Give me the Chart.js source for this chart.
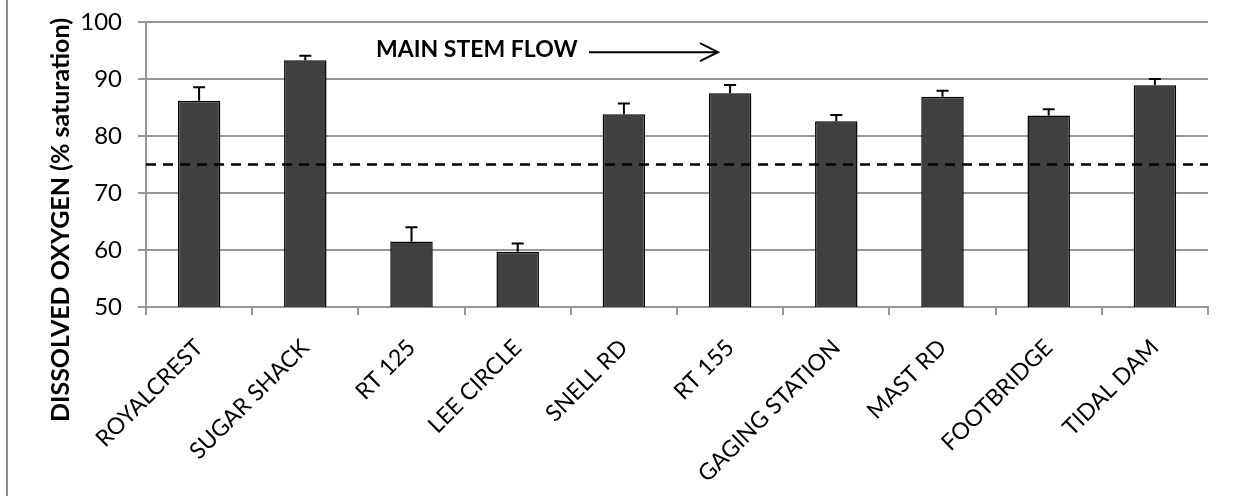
<!DOCTYPE html>
<html>
<head>
<meta charset="utf-8">
<script src="https://cdn.jsdelivr.net/npm/chart.js@4"></script>
<style>
  html, body { margin: 0; padding: 0; background: #fff; }
  #wrap { width: 1233px; height: 496px; }
</style>
</head>
<body>
<div id="wrap"><canvas id="doChart" width="1233" height="496"></canvas></div>
<script>
// sampling sites, upstream to downstream
const sites = ['ROYALCREST', 'SUGAR SHACK', 'RT 125', 'LEE CIRCLE', 'SNELL RD',
               'RT 155', 'GAGING STATION', 'MAST RD', 'FOOTBRIDGE', 'TIDAL DAM'];
// mean dissolved oxygen (% saturation)
const meanDO = [86.2, 93.3, 61.5, 59.7, 83.8, 87.5, 82.6, 86.9, 83.6, 88.9];
// error bar (+) size
const errDO = [2.35, 0.8, 2.5, 1.45, 1.9, 1.45, 1.1, 1.05, 1.1, 1.1];
// state standard line
const standardDO = 75;
const yTicks = [50, 60, 70, 80, 90, 100];

const fontFam = 'Lato, "Open Sans", sans-serif';
const gridGray = '#969696';

const extras = {
    id: 'extras',
    afterDatasetsDraw(chart) {
        const ctx = chart.ctx;
        const y = chart.scales.y;
        const meta = chart.getDatasetMeta(0);

        // error bars (upper half only, lower half sits inside the bar)
        ctx.save();
        ctx.strokeStyle = '#000';
        ctx.lineWidth = 2;
        meta.data.forEach((bar, i) => {
            const top = y.getPixelForValue(meanDO[i] + errDO[i]);
            const base = y.getPixelForValue(meanDO[i]);
            ctx.beginPath();
            ctx.moveTo(bar.x, base);
            ctx.lineTo(bar.x, top);
            ctx.moveTo(bar.x - 6, top);
            ctx.lineTo(bar.x + 6, top);
            ctx.stroke();
        });

        // dashed standard line
        const yStd = y.getPixelForValue(standardDO);
        ctx.setLineDash([10, 7]);
        ctx.lineWidth = 2.5;
        ctx.beginPath();
        ctx.moveTo(chart.chartArea.left, yStd);
        ctx.lineTo(chart.chartArea.right, yStd);
        ctx.stroke();
        ctx.setLineDash([]);

        // flow annotation
        const ay = y.getPixelForValue(94.7);
        ctx.fillStyle = '#000';
        ctx.font = 'bold 23px ' + fontFam;
        ctx.textBaseline = 'middle';
        ctx.textAlign = 'left';
        ctx.fillText('MAIN STEM FLOW', 376, ay - 3);
        const ax0 = 589, ax1 = 718;
        ctx.lineWidth = 2;
        ctx.beginPath();
        ctx.moveTo(ax0, ay);
        ctx.lineTo(ax1, ay);
        ctx.moveTo(ax1 - 18, ay - 9);
        ctx.lineTo(ax1, ay);
        ctx.lineTo(ax1 - 18, ay + 9);
        ctx.stroke();

        // y axis title
        ctx.save();
        ctx.translate(61, 220);
        ctx.rotate(-Math.PI / 2);
        ctx.textAlign = 'center';
        ctx.font = 'bold 25px ' + fontFam;
        ctx.fillText('DISSOLVED OXYGEN (% saturation)', 0, 0);
        ctx.restore();

        // left frame edge
        ctx.strokeStyle = '#8c8c8c';
        ctx.lineWidth = 2;
        ctx.beginPath();
        ctx.moveTo(7, 0);
        ctx.lineTo(7, chart.height);
        ctx.stroke();
        ctx.restore();
    }
};

new Chart(document.getElementById('doChart'), {
    type: 'bar',
    data: {
        labels: sites,
        datasets: [{
            data: meanDO,
            backgroundColor: '#404040',
            borderColor: '#000',
            borderWidth: 1.5,
            barPercentage: 0.4,
            categoryPercentage: 1
        }]
    },
    options: {
        responsive: false,
        animation: false,
        layout: { padding: { top: 22, right: 25, left: 0, bottom: 0 } },
        plugins: { legend: { display: false }, tooltip: { enabled: false } },
        scales: {
            x: {
                grid: { drawOnChartArea: false, tickLength: 8, color: gridGray, lineWidth: 2, offset: true },
                border: { color: gridGray, width: 2 },
                ticks: {
                    color: '#000', font: { family: fontFam, size: 23 },
                    minRotation: 45, maxRotation: 45, padding: 19, autoSkip: false
                },
                afterFit(scale) { scale.height = 189; scale.paddingLeft = 0; scale.paddingRight = 0; }
            },
            y: {
                min: 50, max: 100,
                afterBuildTicks(scale) { scale.ticks = yTicks.map(v => ({ value: v })); },
                grid: { color: gridGray, lineWidth: 2, tickLength: 8 },
                border: { color: gridGray, width: 2 },
                ticks: { color: '#000', font: { family: fontFam, size: 24 }, padding: 16 },
                afterFit(scale) { scale.width = 146; scale.paddingTop = 0; scale.paddingBottom = 0; }
            }
        }
    },
    plugins: [extras]
});
</script>
</body>
</html>
